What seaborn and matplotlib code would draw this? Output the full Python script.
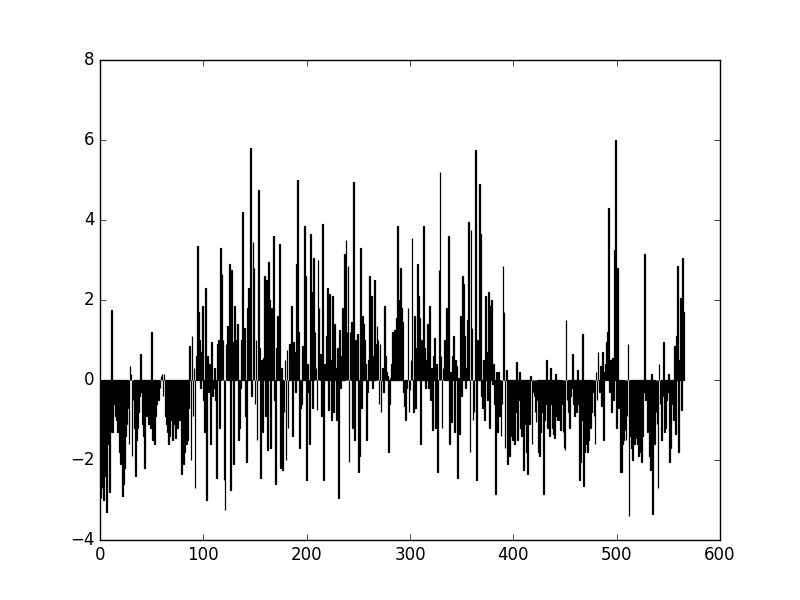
import numpy as np
import pandas as pd
import matplotlib
matplotlib.use("Agg")
import matplotlib.pyplot as plt
import seaborn as sns

# bar heights, one bar per integer position
vals_000_099 = [
    -2.9, -2.95, -2.7, -3.0, -1.2, -2.4, -3.3, -1.6, -0.7, -2.8,
    -1.3, 1.75, -1.3, -0.6, -0.3, -0.9, -1.0, -1.3, -0.5, -1.8,
    -2.1, -0.8, -2.9, -2.6, -2.2, -1.4, -1.1, -0.7, -1.6, 0.35,
    0.15, -1.9, -0.5, -1.2, -2.4, -1.5, -1.2, -0.8, -0.4, 0.65,
    -0.3, -1.1, -1.4, -2.2, -0.5, -0.9, -0.6, -1.1, -0.4, -1.2,
    1.2, -1.5, -1.3, -1.6, -0.9, -0.6, -0.3, -0.5, -0.2, 0.1,
    0.15, -0.4, 0.15, -0.9, -1.1, -1.3, -1.6, -1.4, -0.7, -1.0,
    -1.5, -0.8, -1.1, -1.45, -0.6, -1.2, -0.4, -1.0, -0.5, -2.35,
    -1.2, -2.1, -1.8, -0.9, -1.6, -1.5, -0.7, 0.85, -2.0, 1.1,
    -0.9, 0.3, -2.7, 0.6, 3.35, 1.7, 1.0, -0.2, 0.7, 1.85,
]
vals_100_199 = [
    -0.5, -1.3, 2.3, -3.0, 0.6, -0.3, 0.4, -1.6, 0.95, -0.4,
    -0.2, 0.3, -0.5, -2.45, 0.9, 1.0, -1.2, 3.3, 2.65, 1.0,
    -2.5, -3.25, 0.9, 1.35, 0.6, 2.9, -2.75, 2.75, 0.95, -2.1,
    1.85, 1.0, 0.75, 1.4, -1.5, -1.2, -0.2, 1.0, 4.2, 0.5,
    1.3, -0.9, -2.05, 1.8, 2.3, 2.25, 5.8, -0.4, 3.45, 2.8,
    -0.6, 1.0, -1.5, 4.75, 0.8, -2.45, 0.5, -1.3, 0.55, 2.6,
    -0.9, 2.5, -1.75, 2.95, 2.0, -1.7, 1.8, 0.4, 3.6, -0.5,
    -2.6, 0.8, 1.6, 1.0, 3.4, -2.2, 0.3, -2.25, -0.8, 0.5,
    -2.0, 0.75, -1.2, 0.9, 0.4, 1.85, -1.4, 0.95, 0.7, -0.3,
    2.9, 5.0, 1.2, -1.7, -0.7, -0.6, 0.85, 0.2, 3.85, 2.6,
]
vals_200_299 = [
    -2.5, 0.4, -0.3, -1.6, 3.65, 2.2, -0.7, 3.05, 1.2, 0.3,
    -0.75, 3.0, 1.8, 0.65, -0.9, 3.9, -2.5, 0.4, 0.2, 1.1,
    2.3, -0.75, 2.15, 0.5, -1.0, 2.1, -0.8, 1.4, 0.3, -1.0,
    0.8, -2.95, 1.25, -0.2, 0.6, 1.8, 0.4, 3.15, 3.5, 1.2,
    2.85, -2.05, 1.2, 1.45, -1.2, 4.95, -1.5, 1.0, 0.3, 1.15,
    -2.3, -1.9, 3.3, -0.7, 1.6, 1.4, 1.0, 0.4, -1.5, -0.3,
    0.5, 2.6, 2.1, 2.1, -0.2, 0.6, 2.5, 0.9, 1.35, 1.0,
    -0.6, 0.9, -0.8, 0.3, -0.3, 1.85, 0.6, 0.2, 0.1, -1.8,
    -0.6, 0.05, 0.4, 1.2, 0.6, 1.25, 0.3, 1.55, 3.85, 2.0,
    0.6, 2.8, 1.8, 1.45, -0.3, -0.65, -1.0, -0.2, 1.8, -0.8,
]
vals_300_399 = [
    -0.25, 0.5, 3.55, -0.8, 1.6, -0.7, 0.8, 2.9, 2.1, 1.55,
    -1.6, 1.0, 0.4, 3.85, 0.8, -0.2, 0.5, 1.4, -0.2, 1.85,
    -0.5, 0.3, -1.25, 0.6, 1.05, -1.2, 0.4, -2.3, 2.75, 5.2,
    0.6, -1.2, 0.3, 1.0, 0.4, 1.8, 0.9, 3.6, -1.6, 0.2,
    -1.05, 0.6, 1.1, -1.3, 0.5, 0.35, -2.45, 0.05, -1.35, 1.6,
    -0.4, 2.6, 2.4, 1.1, -0.2, 0.3, 1.5, 3.95, -1.8, 3.75,
    1.3, -1.0, -0.8, 5.75, -2.5, 1.0, 0.3, 4.9, 3.65, -0.4,
    -0.7, 0.5, -1.0, 2.1, 0.7, -0.5, 2.2, -1.2, 1.85, 2.0,
    -0.1, 0.4, -0.6, -2.85, 0.2, -1.3, 0.2, -0.9, -1.4, -0.6,
    2.85, 1.7, -1.7, 0.25, -2.1, -1.75, -1.9, -1.4, -1.2, -1.5,
]
vals_400_499 = [
    -1.4, -1.6, -0.8, 0.45, -1.5, -0.5, 0.2, -1.2, -1.4, -1.1,
    -2.25, -1.1, -0.6, -1.8, -2.35, -0.9, -1.1, 0.1, -1.6, -0.3,
    -0.4, -0.8, -1.05, -0.5, -1.8, -1.9, -1.3, -0.3, -0.8, -2.85,
    -1.0, -0.6, 0.5, -1.2, -0.9, -1.4, 0.3, -0.6, -1.2, -1.35,
    -1.45, 0.15, -0.9, -1.0, -0.4, -1.0, -1.25, -0.6, -1.3, -1.7,
    -1.75, 1.5, -0.5, -0.8, -1.2, -0.4, -0.2, 0.65, -0.6, -0.9,
    -0.3, -0.8, 0.25, -0.6, -2.5, -2.05, -1.0, 1.15, -2.65, -1.8,
    -1.6, -0.7, -1.8, -1.5, -1.1, -1.2, -0.8, -0.3, -0.9, -1.6,
    0.2, -0.5, 0.7, -0.3, 0.35, -0.65, 0.7, -1.5, 0.2, 0.4,
    0.95, 1.2, 4.3, -0.3, 0.5, -0.8, 0.55, -0.5, 3.25, 6.0,
]
vals_500_565 = [
    -1.2, 2.8, -0.7, -0.3, -2.3, -2.3, -1.6, -1.5, -1.25, -1.5,
    -0.9, 0.9, -3.4, -1.4, -1.7, -2.0, -1.2, -1.6, -1.45, -1.35,
    -1.6, -1.9, -1.8, -1.2, -2.05, -1.4, -0.3, 3.15, -0.5, -0.1,
    -1.3, -0.9, -1.9, -2.25, 0.15, -3.35, -1.3, -1.6, -0.8, -1.1,
    -2.7, 0.4, -0.6, -1.5, -0.4, 0.95, -1.3, -1.2, -0.5, -0.3,
    0.15, -2.05, -1.7, -0.6, -0.2, -1.0, 0.85, -1.35, 1.1, 2.85,
    -1.8, 0.5, 2.05, -0.75, 3.05, 1.7,
]

values = np.concatenate([vals_000_099, vals_100_199, vals_200_299,
                         vals_300_399, vals_400_499, vals_500_565])
df = pd.DataFrame({"x": np.arange(len(values)), "value": values})

x_ticks = [0, 100, 200, 300, 400, 500, 600]
y_ticks = [-4, -2, 0, 2, 4, 6, 8]

plt.style.use("classic")
fig, ax = plt.subplots(figsize=(8, 6), dpi=100)
fig.patch.set_facecolor("white")

sns.barplot(data=df, x="x", y="value", native_scale=True, errorbar=None,
            color="black", edgecolor="black", linewidth=0.9, ax=ax)

ax.set_xlim(0, 600)
ax.set_ylim(-4, 8)
ax.set_xticks(x_ticks)
ax.set_yticks(y_ticks)
ax.set_xlabel("")
ax.set_ylabel("")

fig.subplots_adjust(left=0.125, right=0.9, bottom=0.1, top=0.9)
plt.savefig("out.png", dpi=100, facecolor="white")
